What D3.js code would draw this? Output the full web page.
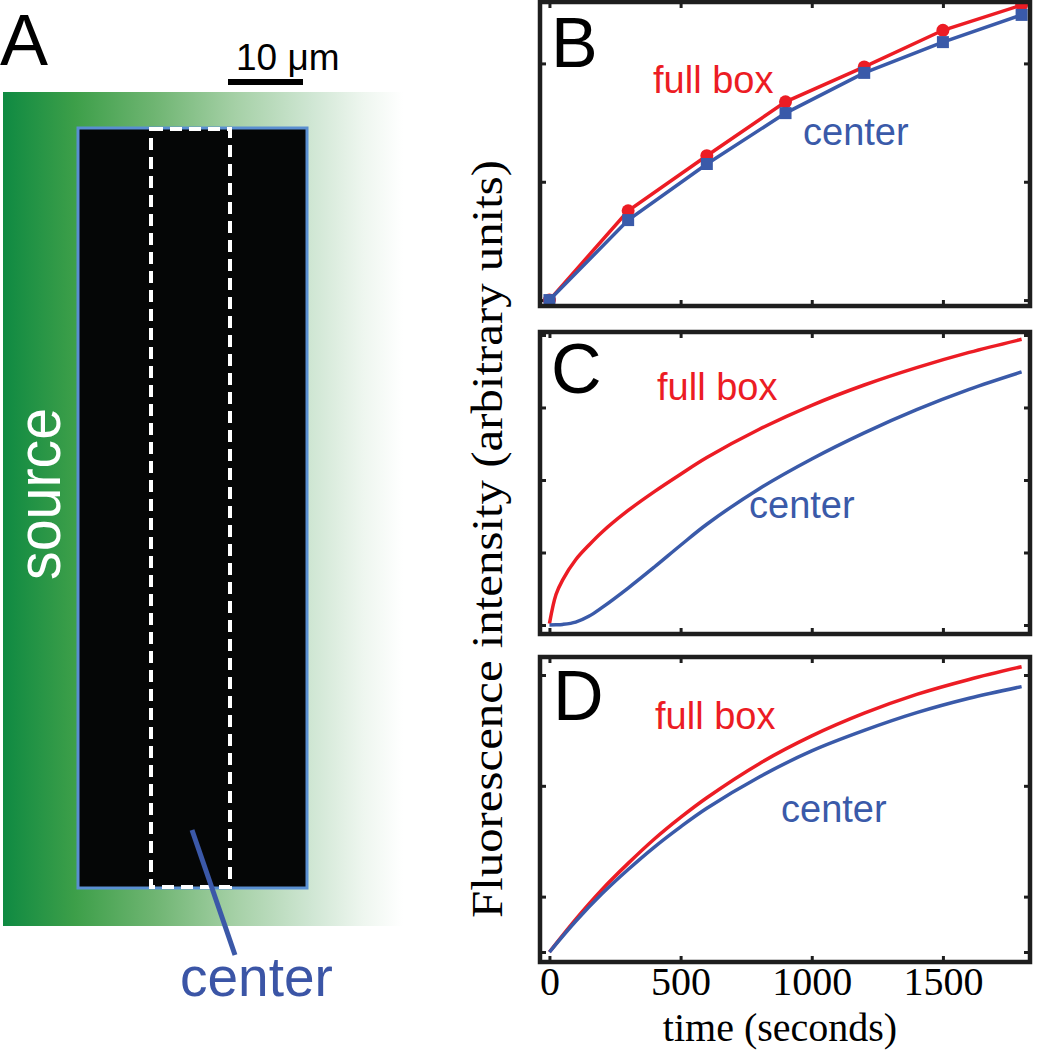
<!DOCTYPE html>
<html><head><meta charset="utf-8">
<script src="https://cdn.jsdelivr.net/npm/d3@7"></script>
<style>html,body{margin:0;padding:0;background:#fff;}svg{display:block;}</style>
</head><body>
<svg id="chart" width="1037" height="1050"></svg>
<script>
// ---------- data ----------
const timeB = [0, 300, 600, 900, 1200, 1500, 1800];
const fullBoxB = [0, 0.755, 1.22, 1.675, 1.97, 2.28, 2.493];
const centerB = [0, 0.676, 1.15, 1.58, 1.92, 2.18, 2.41];

const timeC = [0, 25, 50, 100, 150, 200, 300, 400, 500, 600, 800, 1000, 1200, 1400, 1600, 1800];
const fullBoxC = [0.02, 0.42, 0.62, 0.9, 1.1, 1.28, 1.58, 1.84, 2.08, 2.31, 2.7, 3.03, 3.31, 3.55, 3.76, 3.94];
const centerC = [0, 0.002, 0.008, 0.04, 0.12, 0.24, 0.51, 0.8, 1.1, 1.39, 1.88, 2.29, 2.65, 2.97, 3.25, 3.49];

const timeD = [0, 100, 200, 300, 400, 500, 600, 800, 1000, 1200, 1400, 1600, 1800];
const fullBoxD = [0, 0.59, 1.125, 1.6, 2.04, 2.43, 2.785, 3.4, 3.9, 4.31, 4.65, 4.92, 5.15];
const centerD = [0, 0.555, 1.05, 1.49, 1.895, 2.26, 2.595, 3.16, 3.63, 4.0, 4.32, 4.58, 4.79];

const xTicks = [0, 500, 1000, 1500];
const yTicksB = [0, 1, 2];
const yTicksC = [0, 1, 2, 3, 4];
const yTicksD = [0, 1, 3, 5];

const panelLetters = ["B", "C", "D"];
const seriesNames = ["full box", "center"];
const xLabel = "time (seconds)";
const yLabel = "Fluorescence intensity (arbitrary units)";

// ---------- style ----------
const RED = "#ec1c24", BLUE = "#3a5aa9", FRAME = "#1e1e1e";
const svg = d3.select("#chart");

// ---------- panel A (schematic) ----------
const defs = svg.append("defs");
const grad = defs.append("linearGradient").attr("id", "srcGrad").attr("x1", "0").attr("x2", "1").attr("y1", "0").attr("y2", "0");
[[0, "#0f8a42"], [0.18, "#3d9f49"], [0.38, "#6fb572"], [0.58, "#a5d0a6"], [0.77, "#cfe6d3"], [0.9, "#eef6ef"], [1, "#ffffff"]]
  .forEach(([o, c]) => grad.append("stop").attr("offset", o).attr("stop-color", c));

svg.append("rect").attr("x", 3).attr("y", 92).attr("width", 400).attr("height", 834).attr("fill", "url(#srcGrad)");
svg.append("rect").attr("x", 78).attr("y", 128).attr("width", 229).attr("height", 760)
  .attr("fill", "#050606").attr("stroke", "#5a8fd1").attr("stroke-width", 3);
svg.append("rect").attr("x", 151).attr("y", 129).attr("width", 79).attr("height", 758)
  .attr("fill", "none").attr("stroke", "#fff").attr("stroke-width", 4).attr("stroke-dasharray", "12,7");

svg.append("text").attr("x", 0).attr("y", 65).attr("font-family", "Liberation Sans, Arial, sans-serif")
  .attr("font-size", 72).attr("fill", "#000").text("A");
svg.append("text").attr("x", 236).attr("y", 70).attr("font-family", "Liberation Sans, Arial, sans-serif")
  .attr("font-size", 37).attr("fill", "#000").text("10 μm");
svg.append("line").attr("x1", 228).attr("x2", 303).attr("y1", 82).attr("y2", 82).attr("stroke", "#000").attr("stroke-width", 6);

svg.append("text").attr("transform", "translate(60,494) rotate(-90)").attr("text-anchor", "middle")
  .attr("font-family", "Liberation Sans, Arial, sans-serif").attr("font-size", 62)
  .attr("textLength", 172).attr("lengthAdjust", "spacingAndGlyphs").attr("fill", "#fff").text("source");

svg.append("line").attr("x1", 192).attr("y1", 830).attr("x2", 235).attr("y2", 955)
  .attr("stroke", "#3b58a8").attr("stroke-width", 5);
svg.append("text").attr("x", 180).attr("y", 996).attr("font-family", "Liberation Sans, Arial, sans-serif")
  .attr("font-size", 55).attr("fill", "#3b55a6").text("center");

// ---------- panels B, C, D ----------
const x = d3.scaleLinear().domain([-36, 1832]).range([540, 1030]);

const panels = [
  { letter: panelLetters[0], top: 2, bottom: 306, domain: [-0.05, 2.519], ticks: yTicksB,
    t: timeB, red: fullBoxB, blue: centerB, markers: true, curve: d3.curveLinear,
    letterPos: [551, 67], fullPos: [653, 93], centerPos: [803, 145] },
  { letter: panelLetters[1], top: 332, bottom: 634, domain: [-0.124, 4.041], ticks: yTicksC,
    t: timeC, red: fullBoxC, blue: centerC, markers: false, curve: d3.curveCatmullRom.alpha(0.5),
    letterPos: [551, 393], fullPos: [657, 400], centerPos: [749, 518] },
  { letter: panelLetters[2], top: 657, bottom: 962, domain: [-0.18, 5.325], ticks: yTicksD,
    t: timeD, red: fullBoxD, blue: centerD, markers: false, curve: d3.curveCatmullRom.alpha(0.5),
    letterPos: [553, 720], fullPos: [655, 729], centerPos: [781, 822] }
];

panels.forEach((p, i) => {
  const y = d3.scaleLinear().domain(p.domain).range([p.bottom, p.top]);
  const g = svg.append("g");
  const tickStyle = sel => {
    sel.select(".domain").remove();
    sel.selectAll(".tick line").attr("stroke", FRAME).attr("stroke-width", 3);
  };
  const L = 6;
  g.append("g").attr("transform", `translate(0,${p.bottom})`)
    .call(d3.axisBottom(x).tickValues(xTicks).tickSize(-L).tickFormat(i === 2 ? d3.format("d") : ""))
    .call(tickStyle)
    .call(s => s.selectAll(".tick text").attr("font-family", "Liberation Serif, Times New Roman, serif")
      .attr("font-size", 40).attr("fill", "#000").attr("y", 5).attr("dy", "0.71em"));
  g.append("g").attr("transform", `translate(0,${p.top})`)
    .call(d3.axisTop(x).tickValues(xTicks).tickSize(-L).tickFormat("")).call(tickStyle);
  g.append("g").attr("transform", `translate(${x.range()[0]},0)`)
    .call(d3.axisLeft(y).tickValues(p.ticks).tickSize(-L).tickFormat("")).call(tickStyle);
  g.append("g").attr("transform", `translate(${x.range()[1]},0)`)
    .call(d3.axisRight(y).tickValues(p.ticks).tickSize(-L).tickFormat("")).call(tickStyle);

  const line = d3.line().x((d, k) => x(p.t[k])).y(d => y(d)).curve(p.curve);
  const clipId = "clip" + i;
  defs.append("clipPath").attr("id", clipId).append("rect")
    .attr("x", x.range()[0]).attr("y", p.top - 1).attr("width", x.range()[1] - x.range()[0]).attr("height", p.bottom - p.top + 1);
  const plot = g.append("g").attr("clip-path", `url(#${clipId})`);
  plot.append("path").datum(p.red).attr("d", line).attr("fill", "none").attr("stroke", RED).attr("stroke-width", 3.5);
  if (p.markers) {
    plot.selectAll("circle").data(p.red).join("circle")
      .attr("cx", (d, k) => x(p.t[k])).attr("cy", d => y(d)).attr("r", 6.5).attr("fill", RED);
  }
  plot.append("path").datum(p.blue).attr("d", line).attr("fill", "none").attr("stroke", BLUE).attr("stroke-width", 3.5);
  if (p.markers) {
    plot.selectAll("rect.sq").data(p.blue).join("rect").attr("class", "sq")
      .attr("x", (d, k) => x(p.t[k]) - 6).attr("y", d => y(d) - 6).attr("width", 12).attr("height", 12).attr("fill", BLUE);
  }

  g.append("rect").attr("x", x.range()[0]).attr("y", p.top).attr("width", x.range()[1] - x.range()[0])
    .attr("height", p.bottom - p.top).attr("fill", "none").attr("stroke", FRAME).attr("stroke-width", 4.5);

  g.append("text").attr("x", p.letterPos[0]).attr("y", p.letterPos[1])
    .attr("font-family", "Liberation Sans, Arial, sans-serif").attr("font-size", 70).attr("fill", "#000").text(p.letter);
  g.append("text").attr("x", p.fullPos[0]).attr("y", p.fullPos[1])
    .attr("font-family", "Liberation Sans, Arial, sans-serif").attr("font-size", 38).attr("fill", RED).text(seriesNames[0]);
  g.append("text").attr("x", p.centerPos[0]).attr("y", p.centerPos[1])
    .attr("font-family", "Liberation Sans, Arial, sans-serif").attr("font-size", 38).attr("fill", BLUE).text(seriesNames[1]);
});

svg.append("text").attr("x", 780).attr("y", 1041).attr("text-anchor", "middle")
  .attr("font-family", "Liberation Serif, Times New Roman, serif").attr("font-size", 40).attr("fill", "#000").text(xLabel);
svg.append("text").attr("transform", "translate(502,539) rotate(-90)").attr("text-anchor", "middle")
  .attr("font-family", "Liberation Serif, Times New Roman, serif").attr("font-size", 44)
  .attr("textLength", 758).attr("lengthAdjust", "spacingAndGlyphs").attr("fill", "#000").text(yLabel);
</script>
</body></html>
